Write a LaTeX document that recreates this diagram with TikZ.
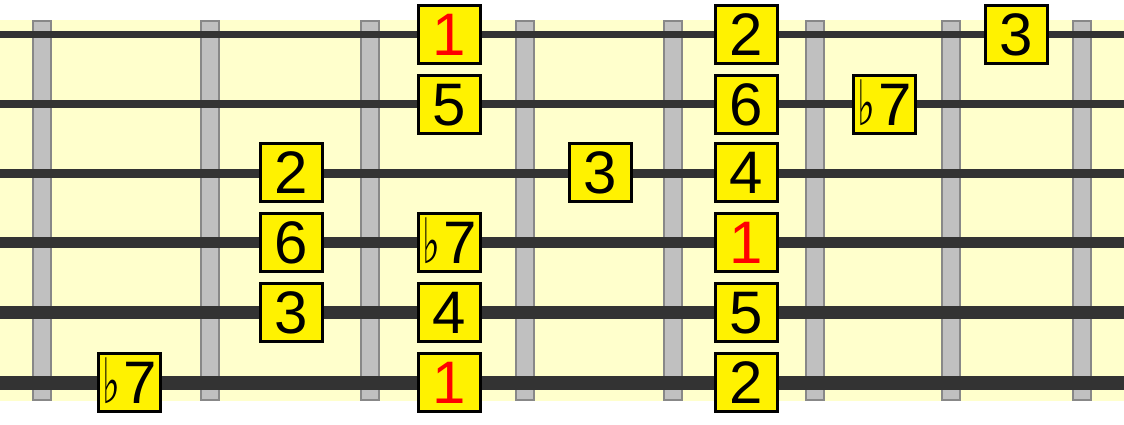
\documentclass[tikz,border=0pt]{standalone}
\usepackage{fontspec}
\setmainfont{Liberation Sans}
\newfontfamily\flatfont{DejaVu Sans}
\definecolor{bgyellow}{RGB}{255,255,204}
\definecolor{fretfill}{RGB}{192,192,192}
\definecolor{fretline}{RGB}{136,136,136}
\definecolor{stringcol}{RGB}{51,51,51}
\definecolor{boxyellow}{RGB}{255,242,0}
\tikzset{
  fretbar/.style={draw=fretline, fill=fretfill, line width=2pt},
  stringline/.style={draw=stringcol, line cap=butt},
  notebox/.style={draw=black, fill=boxyellow, line width=3pt, inner sep=0pt,
    minimum width=62pt, minimum height=58pt, text height=43pt, text depth=0pt,
    font=\fontsize{60}{60}\selectfont},
  rootnote/.style={notebox, text=red}
}
\newcommand{\flt}{\kern2pt\scalebox{0.65}[1.08]{\flatfont\fontsize{58}{58}\selectfont\char"266D}\kern3pt}
\begin{document}
\begin{tikzpicture}[x=1pt,y=-1pt]
\useasboundingbox (0,0) rectangle (1124,424);
\fill[bgyellow] (0,20) rectangle (1124,401);
% frets
\foreach \fx [count=\i] in {41.5,210,370,525,673,815,951,1082}{
  \draw[fretbar] (\fx-9,21) rectangle (\fx+9,400);
}
% strings
\foreach \sy/\sw [count=\i] in {34.5/6.5,104/8,173/9,242.5/11,312.5/12.5,383/14}{
  \coordinate (s\i l) at (0,\sy);
  \coordinate (s\i r) at (1124,\sy);
  \draw[stringline, line width=\sw pt] (s\i l) -- (s\i r);
}
% string 1
\node[rootnote] (n11) at (449,34) {1};
\node[notebox] (n12) at (746.5,34) {2};
\node[notebox] (n13) at (1016.5,34) {3};
% string 2
\node[notebox] (n21) at (884,104) {\flt7};
\node[notebox] (n22) at (449,104) {5};
\node[notebox] (n23) at (746.5,104) {6};
% string 3
\node[notebox] (n31) at (291,172) {2};
\node[notebox] (n32) at (600,172) {3};
\node[notebox] (n33) at (746.5,172) {4};
% string 4
\node[notebox] (n41) at (291,242) {6};
\node[notebox] (n42) at (449,242) {\flt7};
\node[rootnote] (n43) at (746.5,242) {1};
% string 5
\node[notebox] (n51) at (291,312) {3};
\node[notebox] (n52) at (449,312) {4};
\node[notebox] (n53) at (746.5,312) {5};
% string 6
\node[notebox] (n61) at (129,382) {\flt7};
\node[rootnote] (n62) at (449,382) {1};
\node[notebox] (n63) at (746.5,382) {2};
\end{tikzpicture}
\end{document}
